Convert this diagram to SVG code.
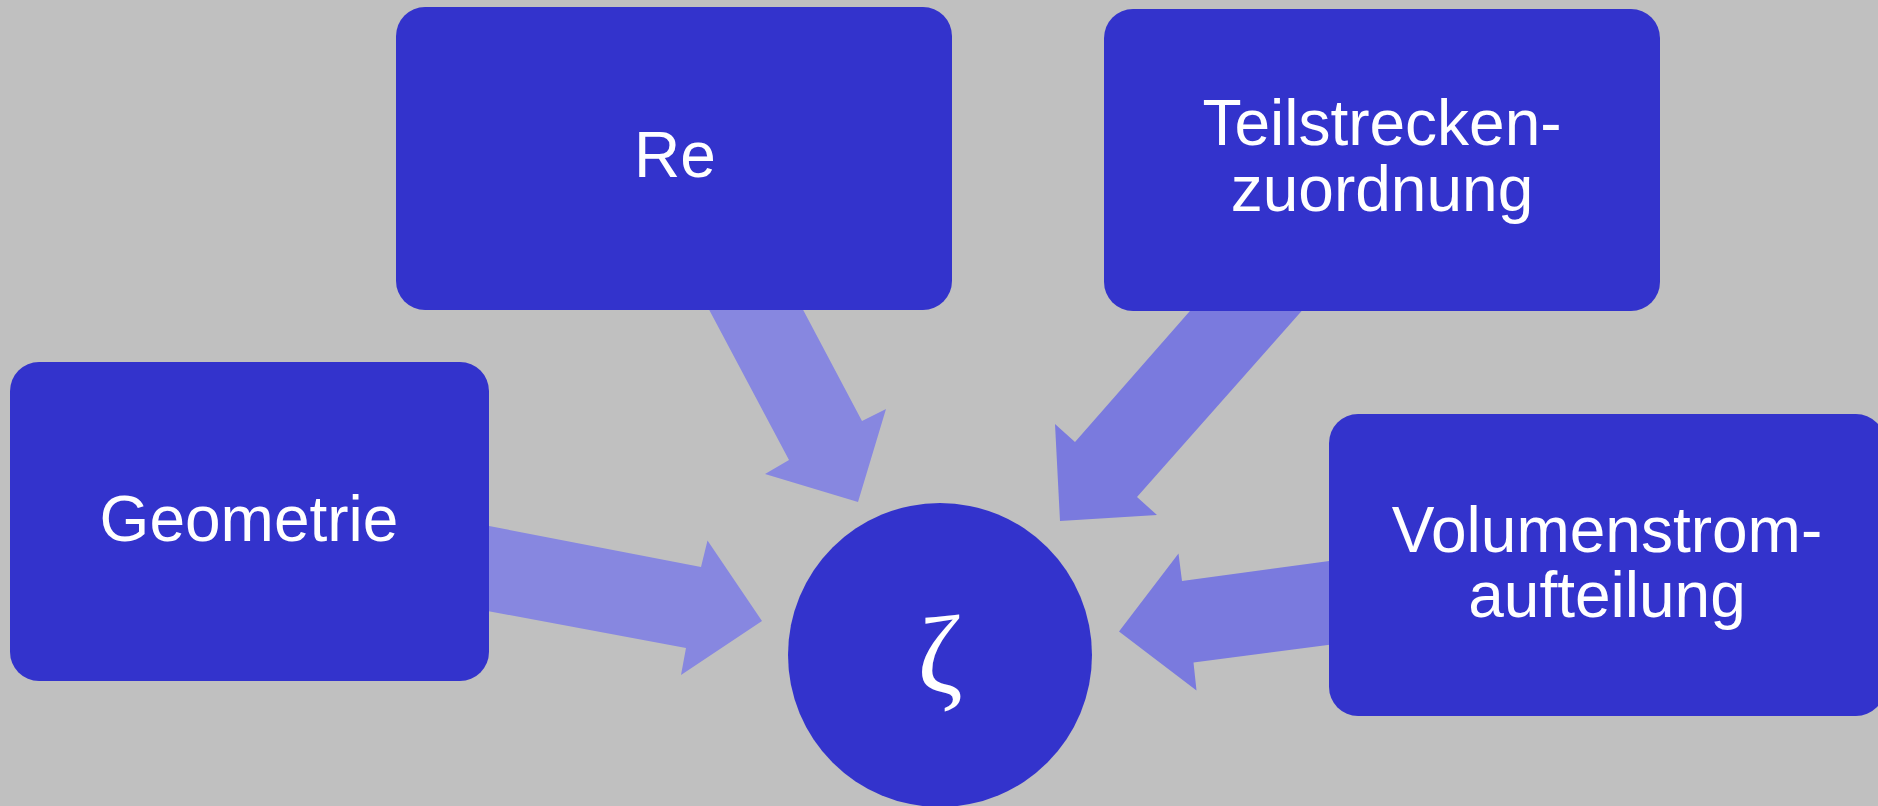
<svg xmlns="http://www.w3.org/2000/svg" width="1878" height="806" viewBox="0 0 1878 806">
  <style>
    .box { fill: #3333CC; }
    .label { fill: #FFFFFF; font-family: "Liberation Sans", Arial, sans-serif; font-size: 64px; text-anchor: middle; }
    .zeta { fill: #FFFFFF; font-family: "Liberation Serif", "Times New Roman", serif; font-size: 110px; text-anchor: middle; }
    .arrow-a { fill: #8787E0; }
    .arrow-b { fill: #7A7ADE; }
  </style>
  <rect width="1878" height="806" fill="#C0C0C0"/>

  <!-- block arrows pointing into the central zeta node -->
  <g id="connectors">
    <polygon id="arrow-re" class="arrow-a" points="688,270 782,270 862,421 886,409 858,502 765,474 789,460"/>
    <polygon id="arrow-teilstrecken" class="arrow-b" points="1225,271 1337,271 1137,497 1157,515 1060,521 1055,424 1075,442"/>
    <polygon id="arrow-geometrie" class="arrow-a" points="450,518.5 701,567 707.5,540.5 762,621 681,675 686,648 450,604"/>
    <polygon id="arrow-volumenstrom" class="arrow-b" points="1370,555.5 1182,581 1178.5,553.5 1119,631.5 1196.5,690.5 1193.5,662.5 1370,639.5"/>
  </g>

  <g id="node-re">
    <rect class="box" x="396" y="7" width="556" height="303" rx="29" ry="29"/>
    <text class="label" x="675" y="177">Re</text>
  </g>

  <g id="node-teilstrecken">
    <rect class="box" x="1104" y="9" width="556" height="302" rx="29" ry="29"/>
    <text class="label" x="1382" y="145">Teilstrecken-</text>
    <text class="label" x="1382" y="211">zuordnung</text>
  </g>

  <g id="node-geometrie">
    <rect class="box" x="10" y="362" width="479" height="319" rx="29" ry="29"/>
    <text class="label" x="249" y="541">Geometrie</text>
  </g>

  <g id="node-volumenstrom">
    <rect class="box" x="1329" y="414" width="556" height="302" rx="29" ry="29"/>
    <text class="label" x="1607" y="552">Volumenstrom-</text>
    <text class="label" x="1607" y="617">aufteilung</text>
  </g>

  <g id="node-zeta">
    <circle class="box" cx="940" cy="655" r="152"/>
    <text class="zeta" x="940" y="692">ζ</text>
  </g>
</svg>
